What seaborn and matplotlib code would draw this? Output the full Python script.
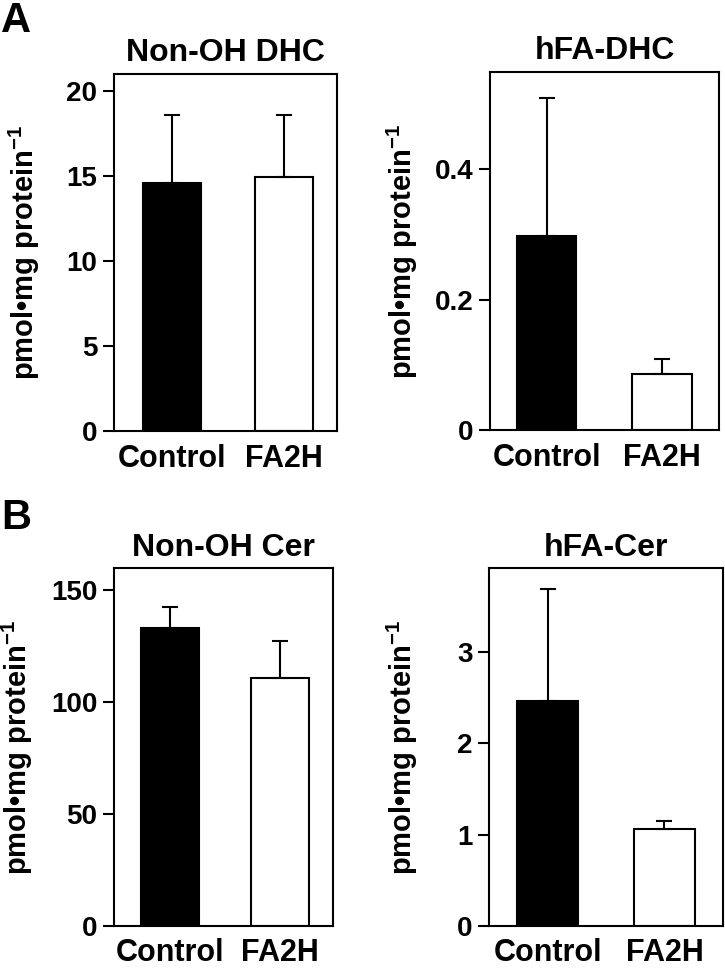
import matplotlib
matplotlib.use("Agg")
import matplotlib.pyplot as plt
import numpy as np
import pandas as pd
import seaborn as sns

# values (mean and upper error, pmol/mg protein)
groups = ["Control", "FA2H"]

nonoh_dhc_mean = [14.6, 14.95]
nonoh_dhc_err = [3.95, 3.65]

hfa_dhc_mean = [0.298, 0.087]
hfa_dhc_err = [0.212, 0.022]

nonoh_cer_mean = [132.9, 110.6]
nonoh_cer_err = [9.6, 16.7]

hfa_cer_mean = [2.46, 1.06]
hfa_cer_err = [1.23, 0.09]

sns.set_style("ticks")
plt.rcParams["font.family"] = ["Liberation Sans", "DejaVu Sans"]
plt.rcParams["font.weight"] = "bold"
plt.rcParams["text.color"] = "black"
plt.rcParams["axes.labelcolor"] = "black"
plt.rcParams["mathtext.fontset"] = "custom"
plt.rcParams["mathtext.rm"] = "Liberation Sans:bold"
plt.rcParams["mathtext.default"] = "rm"

fig = plt.figure(figsize=(7.25, 9.69), dpi=100)


def bar_panel(rect, title, means, errs, ylim, yticks, yticklabels, xlim, label_x):
    ax = fig.add_axes(rect)
    df = pd.DataFrame({"group": groups, "value": means})
    sns.barplot(data=df, x="group", y="value", hue="group",
                palette=["black", "white"], edgecolor="black", linewidth=1.5,
                width=0.52, errorbar=None, legend=False, ax=ax)
    ax.errorbar(x=np.arange(len(groups)), y=means,
                yerr=[np.zeros(len(errs)), errs], fmt="none",
                ecolor="black", elinewidth=1.5, capsize=6, capthick=1.5, zorder=1)
    ax.set_ylim(*ylim)
    ax.set_xlim(*xlim)
    ax.set_yticks(yticks)
    ax.set_yticklabels(yticklabels)
    ax.set_xlabel("")
    ax.set_ylabel("pmol\u2022mg protein$^{-1}$", fontsize=21, fontweight="bold", color="black")
    ax.yaxis.set_label_coords(label_x, 0.5)
    ax.set_title(title, fontsize=23, fontweight="bold", pad=9, color="black")
    for s in ax.spines.values():
        s.set_visible(True)
        s.set_linewidth(1.5)
        s.set_color("black")
    ax.tick_params(axis="y", length=8, width=1.5, pad=4, labelsize=20, colors="black")
    ax.tick_params(axis="x", length=0, pad=9, labelsize=22, colors="black")
    for t in ax.get_xticklabels() + ax.get_yticklabels():
        t.set_fontweight("bold")
    return ax


bar_panel([0.157, 0.555, 0.308, 0.369], "Non-OH DHC", nonoh_dhc_mean, nonoh_dhc_err,
          (0, 21), [0, 5, 10, 15, 20], ["0", "5", "10", "15", "20"], (-0.52, 1.48), -0.323)
bar_panel([0.676, 0.556, 0.316, 0.370], "hFA-DHC", hfa_dhc_mean, hfa_dhc_err,
          (0, 0.55), [0, 0.2, 0.4], ["0", "0.2", "0.4"], (-0.49, 1.5), -0.306)
bar_panel([0.157, 0.0444, 0.302, 0.369], "Non-OH Cer", nonoh_cer_mean, nonoh_cer_err,
          (0, 159.5), [0, 50, 100, 150], ["0", "50", "100", "150"], (-0.51, 1.48), -0.361)
bar_panel([0.675, 0.0444, 0.322, 0.369], "hFA-Cer", hfa_cer_mean, hfa_cer_err,
          (0, 3.91), [0, 1, 2, 3], ["0", "1", "2", "3"], (-0.5, 1.5), -0.297)

fig.text(0.002, 0.999, "A", fontsize=30, fontweight="bold", ha="left", va="top")
fig.text(0.002, 0.486, "B", fontsize=30, fontweight="bold", ha="left", va="top")

fig.savefig("out.png", dpi=100)
